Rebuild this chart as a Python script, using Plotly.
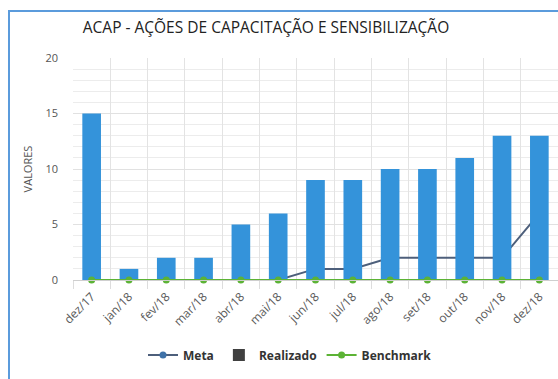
import plotly.graph_objects as go

# Monthly categories and series values
meses = ["dez/17", "jan/18", "fev/18", "mar/18", "abr/18", "mai/18", "jun/18",
         "jul/18", "ago/18", "set/18", "out/18", "nov/18", "dez/18"]
realizado = [15, 1, 2, 2, 5, 6, 9, 9, 10, 10, 11, 13, 13]
meta = [0, 0, 0, 0, 0, 0, 1, 1, 2, 2, 2, 2, 6]
benchmark = [0, 0, 0, 0, 0, 0, 0, 0, 0, 0, 0, 0, 0]
y_ticks = [0, 5, 10, 15, 20]

W, H = 558, 379
L, R, T, B = 73, 0, 58, 99

FONT = "Open Sans"
BAR_BLUE = "#3493da"
META_LINE = "#4d5f7b"
META_MARK = "#3f72a8"
GREEN = "#5cb335"

fig = go.Figure()

# Meta sits on the base axes so the bars (overlay axes) cover it
fig.add_trace(go.Scatter(
    x=meses, y=meta, name="Meta", mode="lines+markers",
    line=dict(color=META_LINE, width=2),
    marker=dict(color=META_MARK, size=7),
    xaxis="x", yaxis="y",
))

fig.add_trace(go.Bar(
    x=meses, y=realizado, name="Realizado", showlegend=False,
    marker=dict(color=BAR_BLUE, line=dict(width=0)),
    xaxis="x2", yaxis="y2",
))

# legend key for Realizado
fig.add_trace(go.Bar(
    x=[None], y=[None], name="Realizado",
    marker=dict(color="#404040", line=dict(width=0)),
    xaxis="x2", yaxis="y2",
))

fig.add_trace(go.Scatter(
    x=meses, y=benchmark, name="Benchmark", mode="lines+markers",
    line=dict(color=GREEN, width=2),
    marker=dict(color=GREEN, size=7),
    cliponaxis=False,
    xaxis="x2", yaxis="y2",
))

n = len(meses)
xr = [-0.5, n - 0.5]
plot_h = H - T - B
plot_w = W - L - R

def px_x(p):
    return (p - L) / plot_w

def px_y(p):
    return (H - B - p) / plot_h

fig.update_layout(
    width=W, height=H,
    margin=dict(l=L, r=R, t=T, b=B, pad=0),
    paper_bgcolor="white", plot_bgcolor="white",
    font=dict(family=FONT, color="#555555", size=11),
    bargap=0.5,
    title=dict(
        text="ACAP - AÇÕES DE CAPACITAÇÃO E SENSIBILIZAÇÃO",
        font=dict(family=FONT, size=15.5, color="#222222"),
        x=266 / W, xanchor="center", xref="container",
        y=1 - 28 / H, yanchor="middle", yref="container",
    ),
    xaxis=dict(
        type="category", categoryorder="array", categoryarray=meses,
        range=xr, tickson="boundaries",
        showgrid=True, gridcolor="#e3e3e3", gridwidth=1,
        ticks="outside", ticklen=8, tickcolor="#dddddd",
        ticklabelstandoff=4,
        tickangle=-45, tickfont=dict(size=12, color="#5a5a5a"),
        showline=True, linecolor="#cfcfcf", linewidth=1,
        zeroline=False,
    ),
    yaxis=dict(
        range=[0, 20], tickvals=y_ticks,
        showgrid=True, gridcolor="#e1e1e1", gridwidth=1,
        minor=dict(dtick=1, showgrid=True, gridcolor="#ececec", gridwidth=1),
        zeroline=False, showline=False,
        ticks="", ticklabelstandoff=14,
        tickfont=dict(size=11, color="#555555"),
        title=dict(text="VALORES", font=dict(size=11, color="#555555"), standoff=10),
    ),
    xaxis2=dict(
        type="category", categoryorder="array", categoryarray=meses,
        range=xr, overlaying="x", visible=False,
    ),
    yaxis2=dict(range=[0, 20], overlaying="y", visible=False),
    legend=dict(
        orientation="h", x=px_x(290), xanchor="center",
        xref="paper", y=px_y(355), yanchor="middle",
        font=dict(family=FONT, size=12, color="#333333", weight="bold"),
        bgcolor="rgba(0,0,0,0)", itemwidth=30,
        traceorder="normal",
    ),
    shapes=[dict(
        type="rect", xref="paper", yref="paper",
        x0=px_x(9), x1=px_x(W + 40), y0=px_y(H + 40), y1=px_y(11),
        line=dict(color="#5b9bdc", width=2), fillcolor="rgba(0,0,0,0)",
        layer="below",
    )],
)

fig.write_html("out.html")
